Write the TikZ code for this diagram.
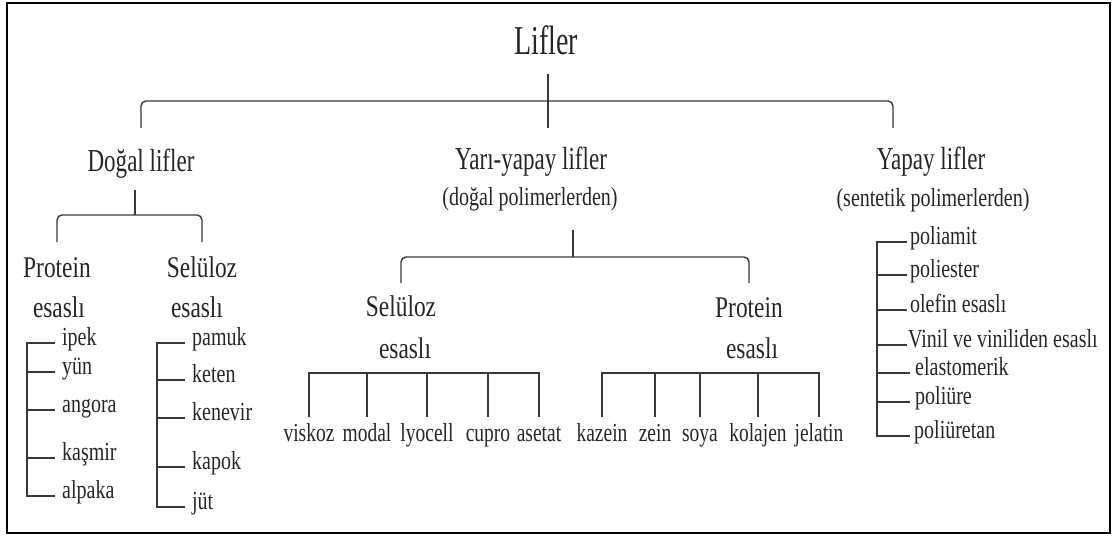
\documentclass[tikz,border=0pt]{standalone}
\usepackage{fontspec}
\setmainfont{Liberation Serif}

\begin{document}
\begin{tikzpicture}[x=1pt,y=-1pt,
  txt/.style={inner sep=0pt,text=black!85},
  root/.style={txt,font=\fontsize{41}{41}\selectfont,xscale=.68,anchor=base},
  head/.style={txt,font=\fontsize{32}{32}\selectfont,xscale=.72,anchor=base},
  paren/.style={txt,font=\fontsize{26}{26}\selectfont,xscale=.77,anchor=base},
  kind/.style={txt,font=\fontsize{30}{30}\selectfont,xscale=.78,anchor=base},
  item/.style={txt,font=\fontsize{26}{26}\selectfont,xscale=.77,anchor=mid west},
  leaf/.style={txt,font=\fontsize{26}{26}\selectfont,xscale=.75,anchor=base},
  tree/.style={line width=1.4pt,black!78},
  brace/.style={tree,rounded corners=5pt},
  twig/.style={tree,shorten >=#1},twig/.default=7pt]
  \useasboundingbox (0,0) rectangle (1113,540);
  \draw[line width=1.8pt] (7,3) rectangle (1110,533);

  % top level
  \node[root] (lifler) at (546,55) {Lifler};
  \node[head] (dogal) at (141,172) {Doğal lifler};
  \node[head] (yari) at (531,170) {Yarı-yapay lifler};
  \node[paren] (yaripar) at (530,206) {(doğal polimerlerden)};
  \node[head] (yapay) at (931,170) {Yapay lifler};
  \node[paren] (yapaypar) at (933,207) {(sentetik polimerlerden)};

  \coordinate (hub) at (548,101);
  \coordinate (hubR) at (893,128);
  \coordinate (drop) at (0,128);
  \draw[tree] (hub) ++(0,-27) -- ++(0,54);
  \draw[brace] (dogal.north |- drop) |- (hub) -| (hubR);

  % dogal lifler
  \node[kind] (prot1) at (57,277) {Protein};
  \node[kind] (esas1) at (59,317) {esaslı};
  \node[kind] (sel1) at (202,277) {Selüloz};
  \node[kind] (esas2) at (197,317) {esaslı};

  \coordinate (dhub) at (135,215);
  \coordinate (dsub) at (0,242);
  \draw[tree] (dhub) -- ++(0,-25);
  \draw[brace] (prot1.north |- dsub) |- (dhub) -| (sel1.north |- dsub);

  \node[item] (ipek) at (62,343) {ipek};
  \node[item] (yun) at (62,372) {yün};
  \node[item] (angora) at (62,410) {angora};
  \node[item] (kasmir) at (62,458) {kaşmir};
  \node[item] (alpaka) at (62,496) {alpaka};
  \coordinate (pspine) at (27,0);
  \draw[tree] ([xshift=-7pt]ipek.mid west) -- (ipek.mid west -| pspine)
    -- (alpaka.mid west -| pspine) -- ([xshift=-7pt]alpaka.mid west);
  \draw[twig] (yun.mid west -| pspine) -- (yun.mid west);
  \draw[twig] (angora.mid west -| pspine) -- (angora.mid west);
  \draw[twig] (kasmir.mid west -| pspine) -- (kasmir.mid west);

  \node[item] (pamuk) at (192,343) {pamuk};
  \node[item] (keten) at (192,380) {keten};
  \node[item] (kenevir) at (192,418) {kenevir};
  \node[item] (kapok) at (192,467) {kapok};
  \node[item] (jut) at (192,507) {jüt};
  \coordinate (sspine) at (157,0);
  \draw[tree] ([xshift=-7pt]pamuk.mid west) -- (pamuk.mid west -| sspine)
    -- (jut.mid west -| sspine) -- ([xshift=-7pt]jut.mid west);
  \draw[twig] (keten.mid west -| sspine) -- (keten.mid west);
  \draw[twig] (kenevir.mid west -| sspine) -- (kenevir.mid west);
  \draw[twig] (kapok.mid west -| sspine) -- (kapok.mid west);

  % yari-yapay lifler
  \node[kind] (sel2) at (401,316) {Selüloz};
  \node[kind] (esas3) at (405,358) {esaslı};
  \node[kind] (prot2) at (749,317) {Protein};
  \node[kind] (esas4) at (752,358) {esaslı};

  \coordinate (yhub) at (573,257);
  \coordinate (ysub) at (0,283);
  \draw[tree] (yhub) -- ++(0,-27);
  \draw[brace] (sel2.north |- ysub) |- (yhub) -| (prot2.north |- ysub);

  \node[leaf] (viskoz) at (309,441) {viskoz};
  \node[leaf] (modal) at (367,441) {modal};
  \node[leaf] (lyocell) at (427,441) {lyocell};
  \node[leaf] (cupro) at (488,441) {cupro};
  \node[leaf] (asetat) at (539,441) {asetat};
  \node[leaf] (kazein) at (602,441) {kazein};
  \node[leaf] (zein) at (655,441) {zein};
  \node[leaf] (soya) at (700,441) {soya};
  \node[leaf] (kolajen) at (758,441) {kolajen};
  \node[leaf] (jelatin) at (819,441) {jelatin};

  \coordinate (comb) at (0,373);
  \coordinate (combend) at (0,417);
  \draw[tree] (viskoz |- combend) |- (asetat |- comb) -- (asetat |- combend);
  \draw[tree] (modal |- comb) -- (modal |- combend);
  \draw[tree] (lyocell |- comb) -- (lyocell |- combend);
  \draw[tree] (cupro |- comb) -- (cupro |- combend);
  \draw[tree] (kazein |- combend) |- (jelatin |- comb) -- (jelatin |- combend);
  \draw[tree] (zein |- comb) -- (zein |- combend);
  \draw[tree] (soya |- comb) -- (soya |- combend);
  \draw[tree] (kolajen |- comb) -- (kolajen |- combend);

  % yapay lifler
  \node[item] (poliamit) at (910,242) {poliamit};
  \node[item] (poliester) at (910,275) {poliester};
  \node[item] (olefin) at (910,310) {olefin esaslı};
  \node[item] (vinil) at (908,345) {Vinil ve viniliden esaslı};
  \node[item] (elasto) at (915,373) {elastomerik};
  \node[item] (poliure) at (915,402) {poliüre};
  \node[item] (poliuretan) at (914,436) {poliüretan};
  \coordinate (yspine) at (877,0);
  \draw[tree] ([xshift=-3pt]poliamit.mid west) -- (poliamit.mid west -| yspine)
    -- (poliuretan.mid west -| yspine) -- ([xshift=-4pt]poliuretan.mid west);
  \draw[twig=3pt] (poliester.mid west -| yspine) -- (poliester.mid west);
  \draw[twig=3pt] (olefin.mid west -| yspine) -- (olefin.mid west);
  \draw[twig=1pt] (vinil.mid west -| yspine) -- (vinil.mid west);
  \draw[twig=5pt] (elasto.mid west -| yspine) -- (elasto.mid west);
  \draw[twig=5pt] (poliure.mid west -| yspine) -- (poliure.mid west);
\end{tikzpicture}
\end{document}
